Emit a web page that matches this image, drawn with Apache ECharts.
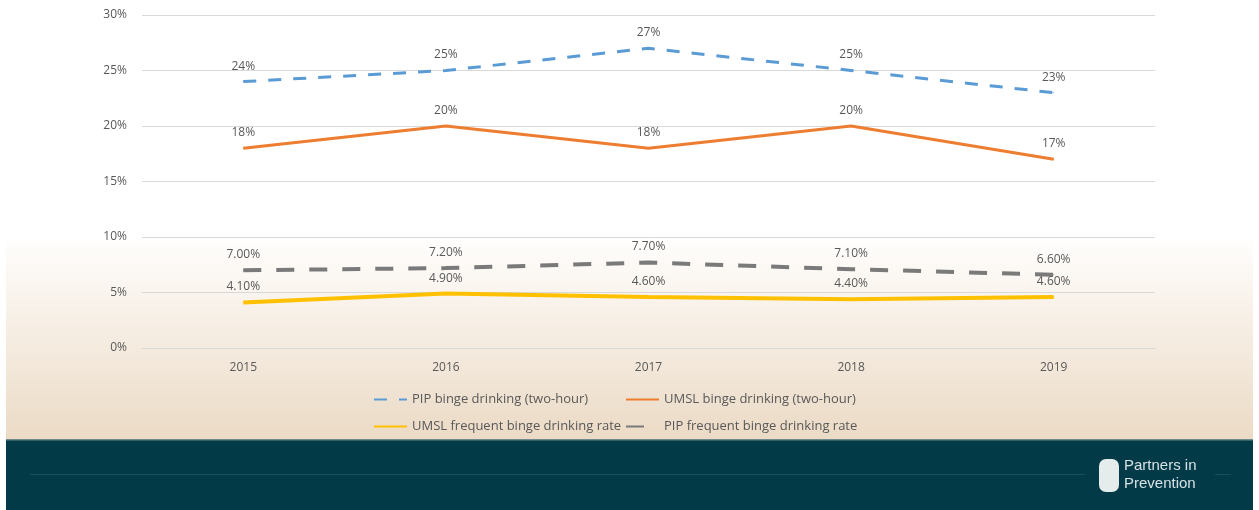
<!DOCTYPE html>
<html>
<head>
<meta charset="utf-8">
<script src="https://cdn.jsdelivr.net/npm/echarts@6/dist/echarts.min.js"></script>
<style>
  html, body { margin: 0; padding: 0; background: #fff; }
  #chart { width: 1259px; height: 510px; }
</style>
</head>
<body>
<div id="chart"></div>
<script>
var years = ['2015', '2016', '2017', '2018', '2019'];
var pipBinge = [24, 25, 27, 25, 23];
var umslBinge = [18, 20, 18, 20, 17];
var umslFrequent = [4.1, 4.9, 4.6, 4.4, 4.6];
var pipFrequent = [7.0, 7.2, 7.7, 7.1, 6.6];

var textColor = '#595959';
var font = 'Open Sans';

function intLabel(p) { return p.value + '%'; }
function decLabel(p) { return p.value.toFixed(2) + '%'; }

// one legend per item so the two rows line up in columns
function oneLegend(name, left, top) {
    return {
        top: top, left: left, itemWidth: 33, itemHeight: 8,
        itemStyle: { opacity: 0 },
        textStyle: { color: textColor, fontFamily: font, fontSize: 13 },
        data: [name]
    };
}

function seriesLabel(fmt) {
    return { show: true, position: 'top', distance: 9, formatter: fmt,
             color: textColor, fontFamily: font, fontSize: 12 };
}

option = {
    animation: false,
    backgroundColor: 'transparent',
    graphic: [
        { type: 'rect', z: -10, shape: { x: 6, y: 238, width: 1247, height: 202 },
          style: { fill: { type: 'linear', x: 0, y: 0, x2: 0, y2: 1,
              colorStops: [{ offset: 0, color: '#fffefd' }, { offset: 1, color: '#ebdac5' }] } } },
        { type: 'rect', z: -10, shape: { x: 6, y: 440, width: 1247, height: 70 },
          style: { fill: '#023a48' } },
        { type: 'rect', z: -10, shape: { x: 6, y: 439, width: 1247, height: 1.5 },
          style: { fill: '#6f8a8c' } },
        { type: 'rect', z: -9, shape: { x: 30, y: 474, width: 1055, height: 1 },
          style: { fill: '#12505e' } },
        { type: 'rect', z: -9, shape: { x: 1215, y: 474, width: 16, height: 1 },
          style: { fill: '#12505e' } },
        { type: 'rect', z: -9, shape: { x: 1099, y: 459, width: 20, height: 33, r: 7 },
          style: { fill: '#e4ecec' } },
        { type: 'text', z: -8, left: 1124, top: 458,
          style: { text: 'Partners in', fill: '#d8e2e4', font: '15px "Liberation Sans"' } },
        { type: 'text', z: -8, left: 1124, top: 476,
          style: { text: 'Prevention', fill: '#d8e2e4', font: '15px "Liberation Sans"' } }
    ],
    legend: [
        oneLegend('PIP binge drinking (two-hour)', 368, 388),
        oneLegend('UMSL binge drinking (two-hour)', 620, 388),
        oneLegend('UMSL frequent binge drinking rate', 368, 415),
        oneLegend('PIP frequent binge drinking rate', 620, 415)
    ],
    grid: {
        left: 142,
        right: 104,
        top: 15,
        bottom: 162,
        containLabel: false
    },
    xAxis: {
        type: 'category',
        boundaryGap: true,
        data: years,
        axisLine: { lineStyle: { color: '#d9d9d9' } },
        axisTick: { show: false },
        axisLabel: { color: textColor, fontFamily: font, fontSize: 12, margin: 14 }
    },
    yAxis: {
        type: 'value',
        min: 0,
        max: 30,
        interval: 5,
        axisLabel: { formatter: '{value}%', color: textColor, fontFamily: font, fontSize: 12, margin: 15 },
        splitLine: { lineStyle: { color: '#d9d9d9' } },
        axisLine: { show: false },
        axisTick: { show: false }
    },
    series: [
        { name: 'PIP binge drinking (two-hour)', type: 'line', data: pipBinge,
          symbol: 'circle', symbolSize: 1,
          lineStyle: { color: '#5b9bd5', width: 3, type: [13, 12] }, itemStyle: { color: '#5b9bd5' },
          label: seriesLabel(intLabel) },
        { name: 'UMSL binge drinking (two-hour)', type: 'line', data: umslBinge,
          symbol: 'circle', symbolSize: 1,
          lineStyle: { color: '#ed7d31', width: 3 }, itemStyle: { color: '#ed7d31' },
          label: seriesLabel(intLabel) },
        { name: 'UMSL frequent binge drinking rate', type: 'line', data: umslFrequent,
          symbol: 'circle', symbolSize: 1,
          lineStyle: { color: '#ffc000', width: 4 }, itemStyle: { color: '#ffc000' },
          label: seriesLabel(decLabel) },
        { name: 'PIP frequent binge drinking rate', type: 'line', data: pipFrequent,
          symbol: 'circle', symbolSize: 1,
          lineStyle: { color: '#7a7a7a', width: 4, type: [18, 15] }, itemStyle: { color: '#7a7a7a' },
          label: seriesLabel(decLabel) }
    ]
};

var myChart = echarts.init(document.getElementById('chart'));
myChart.setOption(option, true);
</script>
</body>
</html>
